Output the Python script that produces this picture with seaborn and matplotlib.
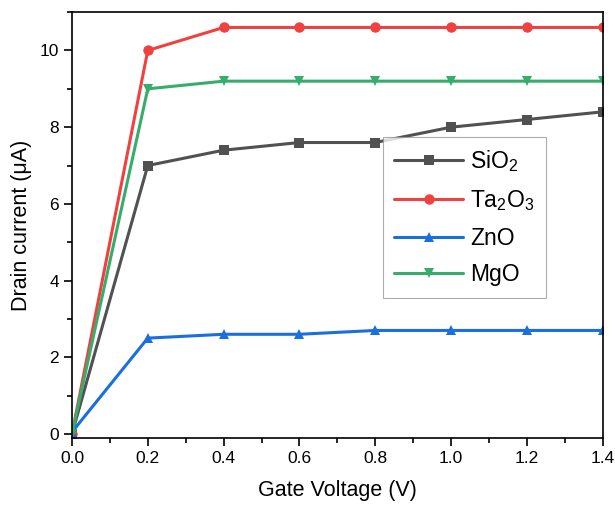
import numpy as np
import pandas as pd
import matplotlib
matplotlib.use('Agg')
import matplotlib.pyplot as plt
import seaborn as sns
from matplotlib.ticker import MultipleLocator

sns.set_style("white")
plt.rcParams['font.family'] = ['Liberation Sans', 'DejaVu Sans']
plt.rcParams['mathtext.fontset'] = 'custom'
plt.rcParams['mathtext.rm'] = 'Liberation Sans'
plt.rcParams['text.color'] = 'black'
plt.rcParams['axes.labelcolor'] = 'black'
plt.rcParams['xtick.color'] = 'black'
plt.rcParams['ytick.color'] = 'black'

gate_voltage = [0.0, 0.2, 0.4, 0.6, 0.8, 1.0, 1.2, 1.4]
sio2 = [0.0, 7.0, 7.4, 7.6, 7.6, 8.0, 8.2, 8.4]
ta2o3 = [0.0, 10.0, 10.6, 10.6, 10.6, 10.6, 10.6, 10.6]
zno = [0.05, 2.5, 2.6, 2.6, 2.7, 2.7, 2.7, 2.7]
mgo = [0.0, 9.0, 9.2, 9.2, 9.2, 9.2, 9.2, 9.2]
labels = ['SiO$_\\mathrm{2}$', 'Ta$_\\mathrm{2}$O$_\\mathrm{3}$', 'ZnO', 'MgO']

df = pd.DataFrame({
    'V': gate_voltage * 4,
    'I': sio2 + ta2o3 + zno + mgo,
    'film': sum([[l] * len(gate_voltage) for l in labels], []),
})

colors = ['#515151', '#F14040', '#1A6FDF', '#37AD6B']
markers = ['s', 'o', '^', 'v']

fig, ax = plt.subplots(figsize=(6.15, 5.05), dpi=100)
sns.lineplot(data=df, x='V', y='I', hue='film', style='film',
             palette=dict(zip(labels, colors)), markers=dict(zip(labels, markers)),
             dashes=False, linewidth=2.2, markersize=7.5, markeredgewidth=0, ax=ax)

ax.set_xlim(0, 1.4)
ax.set_ylim(-0.1, 11)
ax.xaxis.set_major_locator(MultipleLocator(0.2))
ax.xaxis.set_minor_locator(MultipleLocator(0.1))
ax.yaxis.set_major_locator(MultipleLocator(2))
ax.yaxis.set_minor_locator(MultipleLocator(1))
ax.xaxis.set_major_formatter(matplotlib.ticker.FormatStrFormatter('%.1f'))
ax.tick_params(which='major', direction='out', length=6, width=1.2, labelsize=12.5,
               bottom=True, left=True, top=False, right=False)
ax.tick_params(which='minor', direction='out', length=3.5, width=1.2,
               bottom=True, left=True, top=False, right=False)
for s in ax.spines.values():
    s.set_color('black')
    s.set_linewidth(1.2)

ax.set_xlabel('Gate Voltage (V)', fontsize=15.5, labelpad=10)
ax.set_ylabel('Drain current (\u03bcA)', fontsize=15.5, labelpad=5)

leg = ax.legend(loc='upper left', bbox_to_anchor=(0.586, 0.707), fontsize=16.5,
                frameon=True, fancybox=False, edgecolor='#999999',
                handlelength=3.0, handletextpad=0.3, labelspacing=0.6,
                borderpad=0.5, borderaxespad=0, title=None)
leg.get_frame().set_linewidth(0.8)

plt.subplots_adjust(left=0.117, right=0.98, top=0.976, bottom=0.133)
fig.savefig('out.png', dpi=100)
